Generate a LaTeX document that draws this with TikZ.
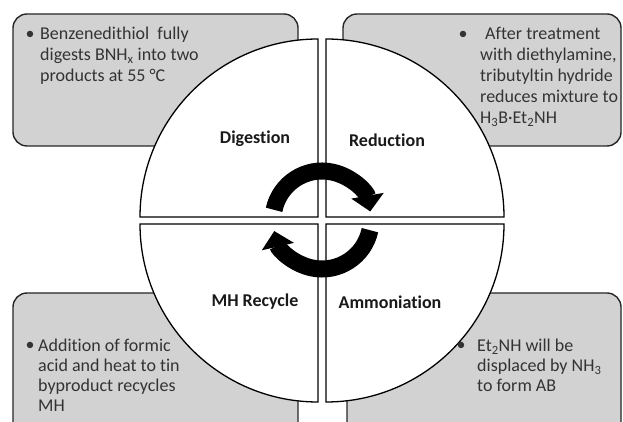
\documentclass[tikz,border=0pt]{standalone}
\usepackage{fontspec}
\setmainfont{Carlito}[Ligatures=NoCommon]
\usetikzlibrary{arrows.meta, calc}

\begin{document}
\begin{tikzpicture}[x=1pt, y=1pt,
    note/.style={draw=black!85, line width=1.4pt, fill=gray!35, rounded corners=14pt},
    quad/.style={draw=black, line width=1.3pt, fill=white},
    txt/.style={anchor=north west, inner sep=0pt, align=left, text=black!80,
        font=\fontsize{18}{21}\selectfont},
    dot/.style={anchor=base, inner sep=0pt, text=black!80, font=\fontsize{18}{21}\selectfont},
    lbl/.style={text=black!90, font=\fontsize{18}{21}\selectfont\bfseries},
    cyc/.style={line width=17pt, -{Triangle[length=16pt, width=32pt]}}]
    \clip (0,0) rectangle (623,422);

    % grey boxes behind the wheel
    \draw [note] (13,276) rectangle (298,408);
    \draw [note] (343,276) rectangle (621,408);
    \draw [note] (13,-20) rectangle (298,129);
    \draw [note] (347,-20) rectangle (621,129);

    % the four quarters
    \draw [quad] (318,205) -- ++(0,178) arc (90:180:178) -- cycle;
    \draw [quad] (326,205) -- ++(178,0) arc (0:90:178) -- cycle;
    \draw [quad] (318,198) -- ++(-178,0) arc (180:270:178) -- cycle;
    \draw [quad] (326,198) -- ++(0,-178) arc (270:360:178) -- cycle;

    \node [lbl] (dig) at (255,283) { Digestion };
    \node [lbl] (red) at (387,282) { Reduction };
    \node [lbl] (mhr) at (255,120) { MH Recycle };
    \node [lbl] (amm) at (390,120) { Ammoniation };

    % cycle arrows
    \coordinate (hub) at (322,202);
    \draw [cyc] ($(hub)+(168:49)$) arc [start angle=168, end angle=10, radius=49];
    \draw [cyc] ($(hub)+(-12:49)$) arc [start angle=-12, end angle=-167, radius=49];

    % box texts
    \node [dot] (b1) at (30,382) {•};
    \node [txt] (t1) at (40,395) {Benzenedithiol\ \ fully\\digests BNH\textsubscript{x} into two\\products at 55 °C};
    \node [dot] (b2) at (463,382) {•};
    \node [txt] (t2) at (480,395) {\hspace{5pt}After treatment\\with diethylamine,\\tributyltin hydride\\reduces mixture to\\H\textsubscript{3}B·Et\textsubscript{2}NH};
    \node [dot] (b3) at (30,71) {•};
    \node [txt, font=\fontsize{18}{20}\selectfont] (t3) at (38,83) {Addition of formic\\acid and heat to tin\\byproduct recycles\\MH};
    \node [dot] (b4) at (461,71) {•};
    \node [txt, font=\fontsize{18}{20}\selectfont] (t4) at (477,83) {Et\textsubscript{2}NH will be\\displaced by NH\textsubscript{3}\\to form AB};
\end{tikzpicture}
\end{document}
